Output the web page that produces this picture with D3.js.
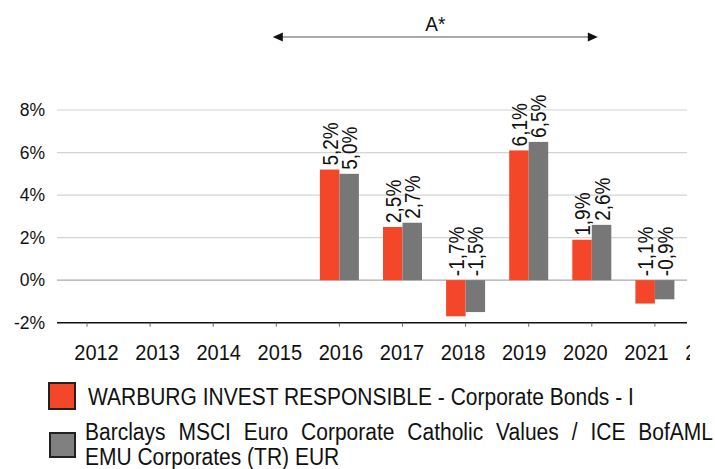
<!DOCTYPE html>
<meta charset="utf-8">
<style>
    body { margin: 0; background: #fff; }
    svg { font-family: "Liberation Sans", Arial, sans-serif; }
    .grid line { stroke: #d4d4d4; stroke-width: 1.2; }
    .ylab { font-size: 17.5px; fill: #111; }
    .xlab { font-size: 20px; fill: #111; }
    .vlab { font-size: 19px; fill: #111; }
    .leg { font-size: 21px; fill: #111; }
</style>

<svg width="715" height="469"></svg>

<script src="https://d3js.org/d3.v7.min.js"></script>
<script>
// data
var years = ["2012", "2013", "2014", "2015", "2016", "2017", "2018", "2019", "2020", "2021", "2022"];
var fund  = [null, null, null, null, 5.2, 2.5, -1.7, 6.1, 1.9, -1.1, null];
var bench = [null, null, null, null, 5.0, 2.7, -1.5, 6.5, 2.6, -0.9, null];
var yTicks = [-2, 0, 2, 4, 6, 8];
var seriesNames = ["WARBURG INVEST RESPONSIBLE - Corporate Bonds - I",
    "Barclays MSCI Euro Corporate Catholic Values / ICE BofAML",
    "EMU Corporates (TR) EUR"];
var colors = ["#f4472a", "#777777"];

var svg = d3.select("svg");
var left = 57, right = 687;

var y = d3.scaleLinear().domain([-2, 8]).range([322.7, 110]);
var x = d3.scalePoint().domain(years).range([87, 87 + 10 * 63.1]);
// the year labels sit a little right of the ticks and closer together
var xl = d3.scalePoint().domain(years).range([96.5, 96.5 + 10 * 61.1]);
var bw = 19.5;
var fmt = function(v) { return d3.format(".1f")(v).replace(".", ",").replace("−", "-") + "%"; };

svg.append("defs").append("clipPath").attr("id", "clip")
    .append("rect").attr("x", 0).attr("y", 0).attr("width", 690).attr("height", 469);

// grid
svg.append("g").attr("class", "grid")
    .selectAll("line").data(yTicks.filter(function(d) { return d > -2; }))
    .enter().append("line")
    .attr("x1", left).attr("x2", right)
    .attr("y1", function(d) { return y(d); }).attr("y2", function(d) { return y(d); })
    .style("stroke", function(d) { return d === 0 ? "#aaaaaa" : null; });

svg.append("g").selectAll("text").data(yTicks).enter().append("text")
    .attr("class", "ylab")
    .attr("x", 45).attr("y", function(d) { return y(d); })
    .attr("dy", "0.36em").attr("text-anchor", "end")
    .text(function(d) { return d + "%"; });

// bars
var groups = [fund, bench];
groups.forEach(function(vals, s) {
    var data = years.map(function(yr, i) { return { yr: yr, v: vals[i] }; })
        .filter(function(d) { return d.v !== null; });
    var bx = function(d) { return x(d.yr) - bw + s * bw; };
    svg.append("g").selectAll("rect").data(data).enter().append("rect")
        .attr("x", bx)
        .attr("width", bw)
        .attr("y", function(d) { return Math.min(y(d.v), y(0)); })
        .attr("height", function(d) { return Math.abs(y(d.v) - y(0)); })
        .attr("fill", colors[s]);
    svg.append("g").selectAll("text").data(data).enter().append("text")
        .attr("class", "vlab")
        .attr("transform", function(d) {
            var cx = bx(d) + bw / 2 + 8;
            var ty = Math.min(y(d.v), y(0)) - 4;
            return "translate(" + cx + "," + ty + ") rotate(-90) scale(1,1.15)";
        })
        .text(function(d) { return fmt(d.v); });
});

// x axis
var axis = svg.append("g");
axis.append("line").attr("x1", left).attr("x2", right)
    .attr("y1", y(-2)).attr("y2", y(-2))
    .attr("stroke", "#111").attr("stroke-width", 1.5);
axis.selectAll(".tk").data(years.filter(function(d) { return x(d) < right; }))
    .enter().append("line")
    .attr("x1", function(d) { return x(d); }).attr("x2", function(d) { return x(d); })
    .attr("y1", y(-2)).attr("y2", y(-2) + 4)
    .attr("stroke", "#666");
axis.append("g").attr("clip-path", "url(#clip)")
    .selectAll("text").data(years).enter().append("text")
    .attr("class", "xlab")
    .attr("transform", function(d) { return "translate(" + xl(d) + ",359.5) scale(1,1.12)"; })
    .attr("text-anchor", "middle")
    .text(function(d) { return d; });

// period marker
var a0 = x("2015") - 3.5, a1 = x("2020") + 6;
svg.append("line").attr("x1", a0 + 8).attr("x2", a1 - 8)
    .attr("y1", 37).attr("y2", 37).attr("stroke", "#555").attr("stroke-width", 1.2);
svg.append("path").attr("d", "M" + a0 + ",37 l10,-4.5 v9 z").attr("fill", "#111");
svg.append("path").attr("d", "M" + a1 + ",37 l-10,-4.5 v9 z").attr("fill", "#111");
svg.append("text").attr("transform", "translate(" + ((a0 + a1) / 2) + ",31) scale(1,1.1)")
    .attr("text-anchor", "middle").style("font-size", "19px").attr("fill", "#111")
    .text("A*");

// legend
var leg = svg.append("g");
leg.append("rect").attr("x", 49).attr("y", 383).attr("width", 26).attr("height", 26)
    .attr("fill", colors[0]).attr("stroke", "#222").attr("stroke-width", 2);
leg.append("rect").attr("x", 50).attr("y", 433).attr("width", 25).attr("height", 24)
    .attr("fill", "#808080").attr("stroke", "#222").attr("stroke-width", 2);
leg.append("text").attr("class", "leg")
    .attr("transform", "translate(88,405) scale(1,1.12)").text(seriesNames[0]);
var l2 = leg.append("text").attr("class", "leg")
    .attr("transform", "translate(85,440) scale(1,1.12)").text(seriesNames[1]);
var words = seriesNames[1].split(" ").length - 1;
var extra = (713 - 85 - l2.node().getComputedTextLength()) / words;
l2.style("word-spacing", extra + "px");
leg.append("text").attr("class", "leg")
    .attr("transform", "translate(85,465) scale(1,1.12)").text(seriesNames[2]);
</script>
